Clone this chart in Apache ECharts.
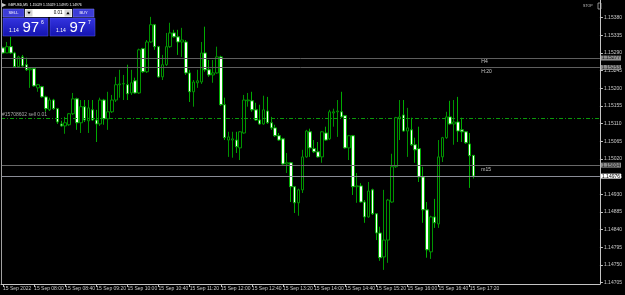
<!DOCTYPE html>
<html><head><meta charset="utf-8">
<script src="https://cdn.jsdelivr.net/npm/echarts@6/dist/echarts.min.js"></script>
<style>html,body{margin:0;padding:0;background:#000;overflow:hidden}#c{width:625px;height:295px}</style>
</head><body><div id="c"></div>
<script>
const symbolName = 'GBPUSD,M5';
const times = [
 '07:20','07:25','07:30','07:35','07:40','07:45','07:50','07:55',
 '08:00','08:05','08:10','08:15','08:20','08:25','08:30','08:35',
 '08:40','08:45','08:50','08:55','09:00','09:05','09:10','09:15',
 '09:20','09:25','09:30','09:35','09:40','09:45','09:50','09:55',
 '10:00','10:05','10:10','10:15','10:20','10:25','10:30','10:35',
 '10:40','10:45','10:50','10:55','11:00','11:05','11:10','11:15',
 '11:20','11:25','11:30','11:35','11:40','11:45','11:50','11:55',
 '12:00','12:05','12:10','12:15','12:20','12:25','12:30','12:35',
 '12:40','12:45','12:50','12:55','13:00','13:05','13:10','13:15',
 '13:20','13:25','13:30','13:35','13:40','13:45','13:50','13:55',
 '14:00','14:05','14:10','14:15','14:20','14:25','14:30','14:35',
 '14:40','14:45','14:50','14:55','15:00','15:05','15:10','15:15',
 '15:20','15:25','15:30','15:35','15:40','15:45','15:50','15:55',
 '16:00','16:05','16:10','16:15','16:20','16:25','16:30','16:35',
 '16:40','16:45','16:50','16:55','17:00','17:05','17:10','17:15',
 '17:20','17:25'];
const opens = [
 1.15303,1.15290,1.15306,1.15290,1.15255,1.15280,1.15260,1.15247,1.15250,1.15201,
 1.15204,1.15178,1.15145,1.15170,1.15148,1.15109,1.15104,1.15107,1.15135,1.15173,
 1.15112,1.15153,1.15117,1.15145,1.15119,1.15109,1.15170,1.15122,1.15140,1.15170,
 1.15209,1.15211,1.15209,1.15188,1.15219,1.15188,1.15301,1.15242,1.15318,1.15362,
 1.15306,1.15229,1.15260,1.15306,1.15341,1.15331,1.15318,1.15318,1.15239,1.15191,
 1.15214,1.15216,1.15290,1.15247,1.15234,1.15239,1.15280,1.15158,1.15068,1.15068,
 1.15068,1.15048,1.15086,1.15168,1.15168,1.15145,1.15119,1.15109,1.15142,1.15112,
 1.15099,1.15079,1.15071,1.15007,1.15010,1.14949,1.14908,1.14941,1.15025,1.15089,
 1.15046,1.15038,1.15025,1.15086,1.15071,1.15137,1.15140,1.15140,1.15130,1.15048,
 1.15079,1.14949,1.14951,1.14910,1.14872,1.14941,1.14880,1.14831,1.14770,1.14813,
 1.14910,1.15000,1.15122,1.15132,1.15091,1.15094,1.15056,1.15046,1.14974,1.14890,
 1.14783,1.14872,1.14854,1.15025,1.15074,1.15127,1.15109,1.15114,1.15094,1.15089,
 1.15058,1.15029];
const closes = [
 1.15290,1.15306,1.15290,1.15255,1.15280,1.15257,1.15247,1.15250,1.15206,1.15209,
 1.15178,1.15148,1.15170,1.15148,1.15114,1.15104,1.15112,1.15135,1.15173,1.15112,
 1.15153,1.15119,1.15150,1.15119,1.15109,1.15170,1.15122,1.15140,1.15170,1.15209,
 1.15211,1.15212,1.15186,1.15214,1.15188,1.15298,1.15242,1.15318,1.15362,1.15306,
 1.15229,1.15260,1.15306,1.15341,1.15331,1.15318,1.15323,1.15239,1.15191,1.15216,
 1.15219,1.15290,1.15247,1.15234,1.15239,1.15280,1.15158,1.15074,1.15076,1.15071,
 1.15051,1.15089,1.15170,1.15170,1.15145,1.15119,1.15109,1.15145,1.15112,1.15099,
 1.15079,1.15068,1.15007,1.15010,1.14949,1.14908,1.14941,1.15025,1.15091,1.15048,
 1.15038,1.15025,1.15089,1.15068,1.15140,1.15140,1.15142,1.15127,1.15048,1.15079,
 1.14949,1.14951,1.14910,1.14872,1.14938,1.14880,1.14831,1.14768,1.14813,1.14915,
 1.15000,1.15125,1.15127,1.15091,1.15099,1.15056,1.15043,1.14974,1.14890,1.14788,
 1.14872,1.14857,1.15025,1.15074,1.15127,1.15109,1.15114,1.15091,1.15089,1.15061,
 1.15028,1.14976];
const lows = [
 1.15288,1.15290,1.15288,1.15252,1.15252,1.15255,1.15244,1.15201,1.15204,1.15191,
 1.15176,1.15140,1.15142,1.15145,1.15109,1.15102,1.15084,1.15104,1.15132,1.15094,
 1.15086,1.15114,1.15086,1.15117,1.15063,1.15104,1.15107,1.15094,1.15137,1.15165,
 1.15176,1.15170,1.15170,1.15183,1.15186,1.15186,1.15239,1.15239,1.15316,1.15298,
 1.15227,1.15221,1.15257,1.15303,1.15329,1.15285,1.15280,1.15234,1.15165,1.15153,
 1.15201,1.15211,1.15242,1.15229,1.15214,1.15237,1.15155,1.15068,1.15025,1.15023,
 1.15035,1.15017,1.15084,1.15153,1.15140,1.15117,1.15107,1.15107,1.15109,1.15094,
 1.15076,1.15066,1.15005,1.14984,1.14910,1.14882,1.14875,1.14933,1.15023,1.15025,
 1.15035,1.15023,1.15010,1.15066,1.15068,1.15102,1.15076,1.15125,1.15046,1.15017,
 1.14928,1.14908,1.14908,1.14857,1.14870,1.14877,1.14813,1.14760,1.14737,1.14755,
 1.14908,1.14997,1.15068,1.15089,1.15025,1.15053,1.15010,1.14961,1.14857,1.14768,
 1.14765,1.14844,1.14844,1.15012,1.15071,1.15107,1.15056,1.15063,1.15063,1.15058,
 1.14946,1.14970];
const highs = [
 1.15306,1.15318,1.15331,1.15293,1.15283,1.15285,1.15278,1.15252,1.15252,1.15211,
 1.15206,1.15181,1.15176,1.15173,1.15150,1.15117,1.15127,1.15137,1.15188,1.15176,
 1.15170,1.15170,1.15170,1.15170,1.15145,1.15176,1.15173,1.15191,1.15183,1.15229,
 1.15247,1.15234,1.15260,1.15247,1.15227,1.15301,1.15303,1.15323,1.15382,1.15364,
 1.15308,1.15285,1.15341,1.15367,1.15349,1.15349,1.15354,1.15323,1.15247,1.15221,
 1.15247,1.15318,1.15357,1.15272,1.15272,1.15306,1.15283,1.15176,1.15089,1.15089,
 1.15089,1.15091,1.15183,1.15188,1.15191,1.15163,1.15158,1.15181,1.15178,1.15127,
 1.15107,1.15086,1.15074,1.15035,1.15012,1.14951,1.14944,1.15043,1.15094,1.15097,
 1.15068,1.15063,1.15091,1.15102,1.15145,1.15148,1.15170,1.15191,1.15132,1.15081,
 1.15081,1.14984,1.14958,1.14915,1.14961,1.14944,1.14882,1.14847,1.14941,1.14918,
 1.15033,1.15127,1.15170,1.15170,1.15150,1.15125,1.15074,1.15102,1.15000,1.14910,
 1.14875,1.14918,1.15068,1.15076,1.15140,1.15168,1.15170,1.15178,1.15125,1.15091,
 1.15086,1.15029];
const xTickLabels = ['15 Sep 2022','15 Sep 08:00','15 Sep 08:40','15 Sep 09:20','15 Sep 10:00',
 '15 Sep 10:40','15 Sep 11:20','15 Sep 12:00','15 Sep 12:40','15 Sep 13:20','15 Sep 14:00',
 '15 Sep 14:40','15 Sep 15:20','15 Sep 16:00','15 Sep 16:40','15 Sep 17:20'];
const yTicks = [1.14705,1.14750,1.14795,1.14840,1.14885,1.14930,1.14975,1.15020,1.15065,
 1.15110,1.15155,1.15200,1.15245,1.15290,1.15335,1.15380];
const levelLines = [1.15277, 1.15253, 1.15004];
const levelNames = ['H4', 'H:20', 'm15'];
const orderPrice = 1.15124;
const orderLabel = '#15708602 sell 0.01';
const bidAsk = [1.14976, 1.14977];

const emptySlots = 32;
const cats = times.concat(new Array(emptySlots).fill(''));
const candles = times.map((t, i) => [opens[i], closes[i], lows[i], highs[i]]);
const last = times.length - 1;
const FF = '"Liberation Sans", Arial, sans-serif';
const axisCol = '#c4c4c4';

const chart = echarts.init(document.getElementById('c'), null, {renderer: 'canvas'});

function boxLabel(v, bg, fg) {
  return {show: true, position: 'end', distance: 1, formatter: v.toFixed(5),
    backgroundColor: bg, color: fg, padding: [0, 1], fontSize: 5, fontFamily: FF};
}
const markLineData = [
  {yAxis: levelLines[0], lineStyle: {color: '#5e5e5e', width: 1, type: 'solid'}, label: boxLabel(levelLines[0], '#8c8c8c', '#1a1a1a')},
  {yAxis: levelLines[1], lineStyle: {color: '#5e5e5e', width: 1, type: 'solid'}, label: boxLabel(levelLines[1], '#8c8c8c', '#1a1a1a')},
  {yAxis: orderPrice, lineStyle: {color: '#0a9a0a', width: 1, type: [4, 2, 1, 2]},
   label: {show: true, position: 'insideStartTop', distance: 1, formatter: orderLabel,
     color: '#a8a8a8', fontSize: 5, fontFamily: FF}},
  {yAxis: levelLines[2], lineStyle: {color: '#686868', width: 1, type: 'solid'}, label: boxLabel(levelLines[2], '#8c8c8c', '#1a1a1a')},
  {yAxis: bidAsk[0], lineStyle: {color: '#8a8c96', width: 1, type: 'solid'}, label: boxLabel(bidAsk[0], '#ffffff', '#000000')}
];

const markPointData = [0, 1, 2].map(k => ({
  coord: [123, levelLines[k]], symbol: 'rect', symbolSize: 0,
  label: {show: true, position: 'right', distance: 0, offset: [0, 4], formatter: levelNames[k],
    color: '#c8c8c8', fontSize: 5, fontFamily: FF}
}));

function bigPrice(x0, price) {
  const s = price.toFixed(5);
  const head = s.slice(0, 4), big = s.slice(4, 6), sup = s.slice(6);
  return [
    {type: 'rect', shape: {x: x0, y: 18, width: 45, height: 18},
     style: {fill: new echarts.graphic.LinearGradient(0, 0, 0, 1, [
       {offset: 0, color: '#3434e0'}, {offset: 1, color: '#1414b0'}]), stroke: '#5a5ae8', lineWidth: 0.5}, z: 100},
    {type: 'text', x: x0 + 6, y: 30.5, z: 101,
     style: {text: head, fill: '#ffffff', fontSize: 5, fontFamily: FF, verticalAlign: 'middle'}},
    {type: 'text', x: x0 + 19.5, y: 28, z: 101,
     style: {text: big, fill: '#ffffff', fontSize: 15, fontFamily: FF, verticalAlign: 'middle'}},
    {type: 'text', x: x0 + 38, y: 23, z: 101,
     style: {text: sup, fill: '#ffffff', fontSize: 5, fontFamily: FF, verticalAlign: 'middle'}}
  ];
}

const titleText = symbolName + '  ' + [opens[last], highs[last], lows[last], closes[last]].map(v => v.toFixed(5)).join(' ');

const graphics = [
  {type: 'line', shape: {x1: 1.5, y1: 0, x2: 1.5, y2: 284}, style: {stroke: '#a0a0a0', lineWidth: 1}, z: 50},
  {type: 'polygon', shape: {points: [[2, 3], [6.5, 5], [2, 7]]}, style: {fill: '#c8c8c8'}, z: 100},
  {type: 'text', x: 8, y: 5, z: 100,
   style: {text: titleText, fill: '#ffffff', fontSize: 3.4, fontFamily: FF, verticalAlign: 'middle'}},
  {type: 'text', x: 583, y: 6, z: 100,
   style: {text: 'STOP', fill: '#c8c8c8', fontSize: 3.6, fontFamily: FF, verticalAlign: 'middle'}},
  {type: 'rect', shape: {x: 598, y: 3, width: 3, height: 6}, style: {fill: 'none', stroke: '#c8c8c8', lineWidth: 0.7}, z: 100},
  {type: 'rect', shape: {x: 3, y: 9, width: 21, height: 8}, style: {fill: '#3c3cd6', stroke: '#8080f0', lineWidth: 0.5}, z: 100},
  {type: 'text', x: 13.5, y: 13, z: 101, style: {text: 'SELL', fill: '#ffffff', fontSize: 4, fontFamily: FF, align: 'center', verticalAlign: 'middle'}},
  {type: 'rect', shape: {x: 25, y: 9, width: 47, height: 8}, style: {fill: '#ffffff'}, z: 100},
  {type: 'rect', shape: {x: 25.5, y: 9.5, width: 7, height: 7}, style: {fill: '#d4d4d4'}, z: 101},
  {type: 'polygon', shape: {points: [[27.3, 11.8], [30.7, 11.8], [29, 14.2]]}, style: {fill: '#000'}, z: 102},
  {type: 'rect', shape: {x: 64.5, y: 9.5, width: 7, height: 7}, style: {fill: '#d4d4d4'}, z: 101},
  {type: 'polygon', shape: {points: [[66.3, 14.2], [69.7, 14.2], [68, 11.8]]}, style: {fill: '#000'}, z: 102},
  {type: 'text', x: 62.5, y: 13, z: 101, style: {text: '0.01', fill: '#000000', fontSize: 4.5, fontFamily: FF, align: 'right', verticalAlign: 'middle'}},
  {type: 'rect', shape: {x: 73, y: 9, width: 21, height: 8}, style: {fill: '#3c3cd6', stroke: '#8080f0', lineWidth: 0.5}, z: 100},
  {type: 'text', x: 83.5, y: 13, z: 101, style: {text: 'BUY', fill: '#ffffff', fontSize: 4, fontFamily: FF, align: 'center', verticalAlign: 'middle'}}
].concat(bigPrice(3, bidAsk[0]), bigPrice(50, bidAsk[1]));

chart.setOption({
  animation: false,
  backgroundColor: '#000000',
  grid: {left: -1, top: 0, width: 604, height: 284, containLabel: false},
  xAxis: {
    type: 'category', data: cats, boundaryGap: true,
    axisLine: {show: true, lineStyle: {color: axisCol, width: 1}},
    axisTick: {show: true, alignWithLabel: true, length: 3, inside: false,
      interval: (i) => i % 8 === 0 && i <= last, lineStyle: {color: axisCol}},
    axisLabel: {show: true, interval: (i) => i % 8 === 0 && i <= last,
      formatter: (v, i) => xTickLabels[i / 8] || '', align: 'left', margin: 2,
      fontSize: 5, color: '#c8c8c8', fontFamily: FF},
    splitLine: {show: false}
  },
  yAxis: {
    type: 'value', position: 'right', min: 1.14701, max: 1.15425, scale: true,
    axisLine: {show: true, lineStyle: {color: axisCol, width: 1}},
    axisTick: {show: true, length: 3, customValues: yTicks, lineStyle: {color: axisCol}},
    axisLabel: {show: true, customValues: yTicks, formatter: (v) => v.toFixed(5), margin: 4,
      fontSize: 5, color: '#c8c8c8', fontFamily: FF},
    splitLine: {show: false}
  },
  series: [
    {
      type: 'line', data: [], silent: true, z: 1,
      markLine: {symbol: 'none', silent: true, animation: false, precision: 5, data: markLineData},
      markPoint: {silent: true, animation: false, precision: 5, data: markPointData}
    },
    {
      type: 'candlestick', data: candles, barWidth: 3, z: 3,
      itemStyle: {color: '#000000', color0: '#ffffff', borderColor: '#009400', borderColor0: '#00ac00', borderWidth: 1}
    }
  ],
  graphic: graphics
});
</script></body></html>
